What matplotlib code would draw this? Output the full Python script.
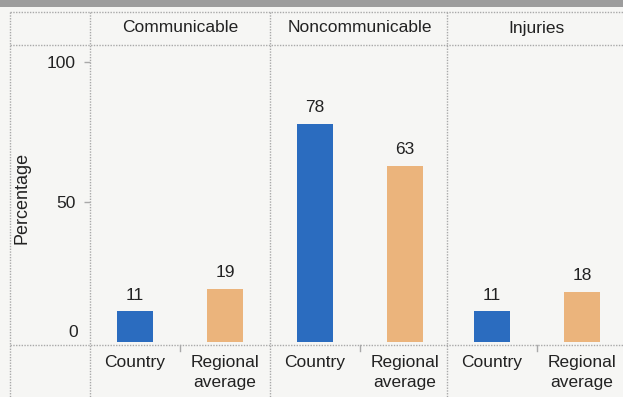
import matplotlib.pyplot as plt
from matplotlib.patches import Rectangle
from matplotlib.lines import Line2D
import matplotlib.transforms as mtransforms

plt.rcParams['font.family'] = ['Liberation Sans', 'DejaVu Sans']

groups = ["Communicable", "Noncommunicable", "Injuries"]
bar_labels = ["Country", "Regional\naverage"]
country = [11, 78, 11]
regional = [19, 63, 18]
yticks = [50, 100]

W, H = 623, 397
BLUE = "#2b6cbf"
ORANGE = "#ebb47c"
FRAME = "#a9a9a9"
TEXT = "#222222"
BG = "#f6f6f4"


def fx(px):
    return px / W


def fy(py):
    return 1 - py / H


fig = plt.figure(figsize=(W / 100, H / 100), dpi=100)
fig.patch.set_facecolor(BG)

# dark band at the very top of the page
fig.patches.append(Rectangle((0, fy(7)), 1, 1 - fy(7), transform=fig.transFigure,
                             facecolor="#9d9d9d", edgecolor="none"))

# table frame
def hline(py, x0=10, x1=W):
    fig.lines.append(Line2D([fx(x0), fx(x1)], [fy(py), fy(py)], transform=fig.transFigure,
                            color=FRAME, lw=1, ls=(0, (1, 1))))


def vline(px, y0=12, y1=H):
    fig.lines.append(Line2D([fx(px), fx(px)], [fy(y0), fy(y1)], transform=fig.transFigure,
                            color=FRAME, lw=1, ls=(0, (1, 1))))


for py in (12, 45, 345):
    hline(py)
for px in (10, 90, 270, 447):
    vline(px)

panel_left = [90, 270, 447]
panel_w = 180
top, bottom = 45, 345

for i, name in enumerate(groups):
    ax = fig.add_axes([fx(panel_left[i]), fy(bottom), fx(panel_w), fy(top) - fy(bottom)])
    ax.set_facecolor("none")
    ax.set_xlim(0, 2)
    ax.set_ylim(-1.07, 106.07)
    for s in ax.spines.values():
        s.set_visible(False)

    vals = [country[i], regional[i]]
    bars = ax.bar([0.5, 1.5], vals, width=0.39, color=[BLUE, ORANGE])
    for b, v in zip(bars, vals):
        ax.annotate(str(v), (b.get_x() + b.get_width() / 2, v), xytext=(0, 6),
                    textcoords="offset points", ha="center", va="bottom",
                    fontsize=12.5, color=TEXT)

    ax.set_xticks([])
    if i == 0:
        ax.set_yticks(yticks)
        ax.tick_params(axis="y", length=4, width=1, color=FRAME, pad=6,
                       labelsize=12.5, labelcolor=TEXT)
        off = mtransforms.ScaledTranslation(-12 / 100, 10 / 100, fig.dpi_scale_trans)
        ax.text(0, 0, "0", transform=ax.get_yaxis_transform() + off,
                ha="right", va="center", fontsize=12.5, color=TEXT)
    else:
        ax.set_yticks([])

    # header and category labels
    cx = panel_left[i] + panel_w / 2
    fig.text(fx(cx), fy(28), name, ha="center", va="center", fontsize=12.5, color=TEXT)
    for j, lab in enumerate(bar_labels):
        bx = panel_left[i] + panel_w * (0.25 + 0.5 * j)
        fig.text(fx(bx), fy(355), lab, ha="center", va="top", fontsize=12.5,
                 color=TEXT, linespacing=1.45)
    # small divider tick under the axis
    fig.lines.append(Line2D([fx(cx), fx(cx)], [fy(345), fy(351)], transform=fig.transFigure,
                            color=FRAME, lw=1))

fig.text(fx(22), fy(198), "Percentage", rotation=90, ha="center", va="center",
         fontsize=13, color=TEXT)

fig.savefig("out.png", dpi=100, facecolor=BG)
